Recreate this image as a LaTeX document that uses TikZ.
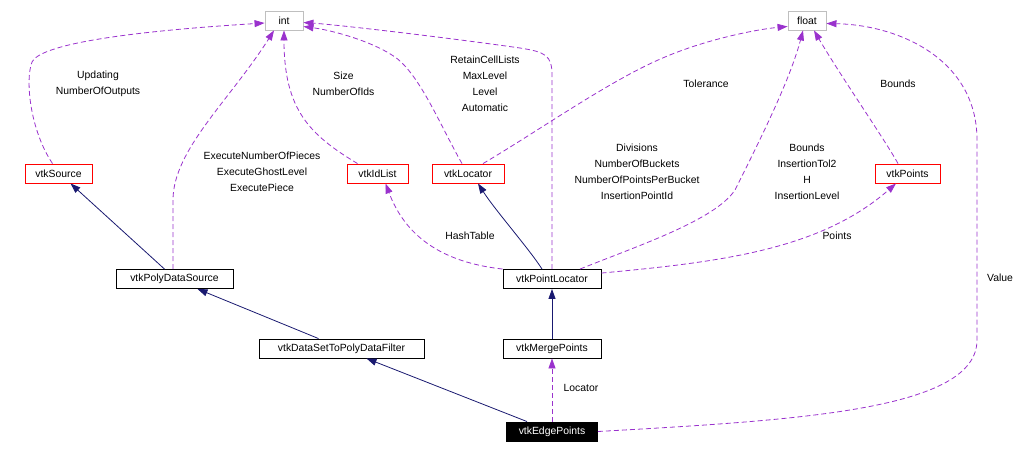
\documentclass[tikz,border=0pt]{standalone}
\usepackage{fontspec}
\setmainfont{Liberation Sans}
\usetikzlibrary{arrows.meta}
\definecolor{inhblue}{HTML}{191970}
\definecolor{usepurple}{HTML}{9A32CD}
\definecolor{extgrey}{HTML}{BFBFBF}
\begin{document}
\begin{tikzpicture}[x=1pt, y=-1pt, every node/.style={font=\fontsize{10.4}{16}\selectfont}]
        \tikzstyle{basebox} = [draw, rectangle, minimum height=19pt, inner sep=0pt, line width=0.9pt]
        \tikzstyle{redbox} = [basebox, draw=red]
        \tikzstyle{greybox} = [basebox, draw=extgrey]
        \tikzstyle{focusbox} = [basebox, fill=black, text=white]
        \tikzstyle{lbl} = [align=center, inner sep=0pt]
        \tikzstyle{inherit} = [color=inhblue, line width=0.8pt, -{Triangle[length=10pt, width=7pt]}]
        \tikzstyle{uses} = [color=usepurple, line width=0.8pt, dash pattern=on 5pt off 3pt, -{Triangle[length=10pt, width=7pt]}]
        \useasboundingbox (0,0) rectangle (1024,453);
        \node[greybox, minimum width=38pt] (int) at (284, 20.5) {int};
        \node[greybox, minimum width=38pt] (float) at (807, 20.5) {float};
        \node[redbox, minimum width=67pt] (src) at (58.5, 173.5) {vtkSource};
        \node[redbox, minimum width=61pt] (idl) at (377.5, 173.5) {vtkIdList};
        \node[redbox, minimum width=72pt] (loc) at (468, 173.5) {vtkLocator};
        \node[redbox, minimum width=65pt] (pts) at (907.5, 173.5) {vtkPoints};
        \node[basebox, minimum width=117pt] (pds) at (174.5, 279) {vtkPolyDataSource};
        \node[basebox, minimum width=165pt] (dsf) at (341.5, 348.5) {vtkDataSetToPolyDataFilter};
        \node[basebox, minimum width=98pt] (plc) at (552, 279) {vtkPointLocator};
        \node[basebox, minimum width=98pt] (mrg) at (552, 348.5) {vtkMergePoints};
        \node[focusbox, minimum width=91pt] (edp) at (552, 431.5) {vtkEdgePoints};
        \node[lbl] (lsrc) at (98, 84) {Updating\\NumberOfOutputs};
        \node[lbl] (lpds) at (262, 172) {ExecuteNumberOfPieces\\ExecuteGhostLevel\\ExecutePiece};
        \node[lbl] (lidl) at (343.5, 84) {Size\\NumberOfIds};
        \node[lbl] (lloc) at (485, 84) {RetainCellLists\\MaxLevel\\Level\\Automatic};
        \node[lbl] (ltol) at (706, 84) {Tolerance};
        \node[lbl] (lpts) at (898, 84) {Bounds};
        \node[lbl] (lplci) at (637, 172) {Divisions\\NumberOfBuckets\\NumberOfPointsPerBucket\\InsertionPointId};
        \node[lbl] (lplcf) at (807, 172) {Bounds\\InsertionTol2\\H\\InsertionLevel};
        \node[lbl] (lhash) at (470, 236) {HashTable};
        \node[lbl] (lpoints) at (837, 236) {Points};
        \node[lbl] (lval) at (1000, 278) {Value};
        \node[lbl] (lloc2) at (581, 388) {Locator};
        \draw[inherit] ([xshift=-10pt]pds.north) -- ([xshift=12pt]src.south);
        \draw[inherit] ([xshift=-23pt]dsf.north) -- ([xshift=23pt]pds.south);
        \draw[inherit] ([xshift=-25pt]edp.north) -- ([xshift=25pt]dsf.south);
        \draw[inherit] ([xshift=-10pt]plc.north) .. controls (530,250) and (495,210) .. ([xshift=10pt]loc.south);
        \draw[inherit] (mrg.north) -- (plc.south);
        \draw[uses] ([xshift=-6pt]src.north) .. controls (30,130) and (25,80) .. (32,62) .. controls (40,45) and (120,32) .. ([yshift=-2.5pt]int.west);
        \draw[uses] ([xshift=-1.5pt]pds.north) -- (173,200) .. controls (173,150) and (230,100) .. ([xshift=-10pt]int.south);
        \draw[uses] ([xshift=-20pt]idl.north) .. controls (310,135) and (284,110) .. (int.south);
        \draw[uses] ([xshift=-6pt]loc.north) .. controls (440,125) and (420,75) .. (395,57) .. controls (370,40) and (330,30) .. ([yshift=-6pt]int.east);
        \draw[uses] (plc.north) -- (552,75) .. controls (552,55) and (545,52) .. (520,48) .. controls (450,38) and (340,25) .. ([yshift=-2pt]int.east);
        \draw[uses] ([xshift=15pt]loc.north) .. controls (540,130) and (610,80) .. (665,57) .. controls (710,38) and (760,29) .. ([yshift=-6pt]float.west);
        \draw[uses] ([xshift=28pt]plc.north) .. controls (640,245) and (715,220) .. (735,190) .. controls (760,140) and (790,80) .. ([xshift=-4pt]float.south);
        \draw[uses] ([xshift=-9.5pt]pts.north) .. controls (885,140) and (840,75) .. ([xshift=7pt]float.south);
        \draw[uses] (plc.north west) .. controls (440,262) and (405,235) .. ([xshift=8pt]idl.south);
        \draw[uses] ([yshift=-4pt]plc.north east) .. controls (720,262) and (820,250) .. ([xshift=-11.5pt]pts.south);
        \draw[uses] (edp.east) .. controls (800,420) and (977,410) .. (977,340) -- (977,140) .. controls (977,60) and (900,25) .. ([yshift=-3pt]float.east);
        \draw[uses] (edp.north) -- (mrg.south);
      \end{tikzpicture}
\end{document}
